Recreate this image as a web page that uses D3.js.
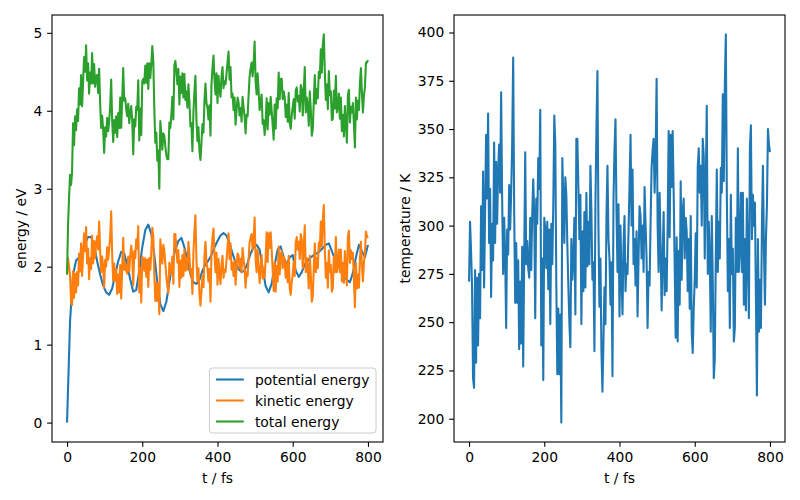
<!DOCTYPE html>
<html><head><meta charset="utf-8">
<script src="https://cdn.jsdelivr.net/npm/d3@7"></script>
<style>body{margin:0;background:#fff}svg{display:block}text{font-family:"DejaVu Sans",sans-serif}</style>
</head><body><svg id="c" width="800" height="500"></svg>
<script>
const xTicks=[0,200,400,600,800];
const energyTicks=[0,1,2,3,4,5];
const tempTicks=[200,225,250,275,300,325,350,375,400];
const seriesNames=["potential energy","kinetic energy","total energy"];
const seriesColors=["#1f77b4","#ff7f0e","#2ca02c"];

const potential=[0.00,1.30,1.90,2.08,2.12,2.18,2.30,2.38,2.38,2.27,
2.07,1.90,1.76,1.67,1.64,1.72,1.90,2.07,2.19,2.17,
2.02,1.84,1.68,1.70,1.95,2.25,2.47,2.54,2.42,2.15,
1.80,1.52,1.43,1.55,1.80,2.05,2.22,2.33,2.37,2.25,
2.08,1.90,1.80,1.78,1.83,1.95,2.03,2.08,2.15,2.25,
2.33,2.40,2.43,2.40,2.30,2.17,2.05,1.97,1.93,1.95,
2.05,2.17,2.25,2.28,2.22,1.98,1.75,1.67,1.78,2.02,
2.22,2.26,2.12,2.03,2.12,2.15,1.95,1.87,1.93,2.03,
2.08,2.12,2.15,2.17,2.20,2.24,2.28,2.30,2.20,2.10,
2.02,1.95,1.88,1.83,1.80,1.92,2.12,2.28,2.20,2.12,
2.28];

const kinetic=[1.90,2.11,2.01,1.88,1.55,1.51,1.94,1.60,1.91,1.67,
1.93,1.76,2.17,1.94,2.30,1.88,2.15,2.43,2.20,2.51,
2.04,2.23,1.84,2.11,1.97,2.40,2.04,2.33,2.11,2.30,
2.39,2.22,2.58,2.20,1.93,2.13,2.00,1.73,2.09,2.00,
2.25,2.09,2.22,2.39,2.71,2.15,1.82,2.04,1.82,1.97,
1.65,1.90,1.67,2.02,1.59,1.98,2.37,1.96,2.04,1.95,
1.91,2.13,1.94,2.14,2.27,2.14,1.76,2.20,2.11,2.35,
2.23,2.52,1.67,1.98,1.54,2.13,2.09,1.95,2.11,1.87,
2.09,1.74,2.11,1.96,2.18,2.50,2.39,1.89,1.56,1.80,
1.56,1.78,1.39,2.35,2.19,2.04,2.28,2.21,2.03,1.88,
1.75,1.66,2.05,1.90,1.98,2.13,1.78,2.42,2.42,2.24,
2.05,2.21,1.74,2.08,1.86,2.15,1.88,2.22,1.95,2.11,
1.96,2.32,2.15,1.90,1.97,1.65,2.18,2.45,2.66,2.10,
1.81,1.98,1.65,1.50,1.68,1.88,1.74,2.13,2.32,2.05,
1.98,1.81,1.97,1.55,2.19,2.37,2.49,2.15,1.93,2.18,
1.77,2.10,1.90,1.78,2.03,2.14,1.86,1.96,1.93,2.08,
2.25,2.43,2.10,2.30,1.96,2.05,1.88,2.08,1.77,1.98,
2.17,2.14,1.98,2.10,1.93,2.24,2.10,1.98,1.73,1.93,
1.88,2.11,2.31,2.37,2.42,2.22,2.35,2.63,2.10,1.93,
2.22,2.02,1.79,1.98,2.15,1.85,1.98,1.86,2.10,2.44,
2.06,2.43,2.24,2.44,2.22,1.96,1.69,2.06,1.68,2.01,
1.81,2.26,1.90,2.15,2.20,1.98,2.13,2.08,1.86,2.05,
1.80,2.14,1.72,1.64,1.80,1.90,2.07,1.88,2.31,2.38,
2.22,2.32,2.10,2.42,2.35,1.98,2.25,2.53,1.93,2.11,
1.98,1.72,2.14,1.90,1.55,1.62,1.98,2.30,1.93,2.11,
1.98,2.31,2.22,2.58,2.26,2.61,2.79,2.22,1.86,2.05,
1.73,2.21,1.93,2.02,1.68,1.73,2.13,1.93,2.38,1.93,
2.02,2.22,1.93,2.22,1.81,2.05,1.79,2.20,1.98,1.76,
2.38,2.46,2.05,2.21,2.10,2.18,1.84,1.48,2.05,1.72,
1.90,1.73,2.10,2.32,2.02,1.81,2.05,2.18,2.45,2.39,
2.37];

const total=[1.90,2.54,2.88,3.18,3.05,3.21,3.84,3.56,3.93,3.75,
4.02,3.87,4.29,4.08,4.46,4.06,4.37,4.69,4.50,4.84,
4.39,4.61,4.22,4.49,4.35,4.74,4.35,4.60,4.31,4.44,
4.46,4.23,4.54,4.10,3.78,3.94,3.76,3.46,3.79,3.67,
3.91,3.74,3.86,4.06,4.40,3.87,3.60,3.88,3.72,3.93,
3.66,3.97,3.78,4.17,3.78,4.16,4.55,4.13,4.16,4.02,
3.93,4.09,3.84,3.98,4.06,3.87,3.44,3.89,3.80,4.05,
4.01,4.39,3.62,4.03,3.69,4.38,4.41,4.35,4.58,4.36,
4.61,4.28,4.61,4.42,4.60,4.83,4.63,4.04,3.59,3.72,
3.36,3.49,3.00,3.87,3.68,3.50,3.71,3.68,3.54,3.43,
3.38,3.38,3.85,3.78,3.95,4.18,3.89,4.58,4.64,4.50,
4.34,4.54,4.08,4.44,4.23,4.48,4.17,4.47,4.14,4.25,
4.04,4.34,4.11,3.80,3.84,3.48,3.98,4.24,4.45,3.88,
3.61,3.79,3.48,3.37,3.59,3.83,3.72,4.13,4.35,4.10,
4.04,3.89,4.07,3.68,4.34,4.55,4.71,4.40,4.21,4.48,
4.10,4.45,4.28,4.18,4.44,4.56,4.29,4.38,4.34,4.48,
4.62,4.76,4.40,4.56,4.17,4.22,4.01,4.17,3.82,4.00,
4.17,4.11,3.94,4.04,3.86,4.18,4.04,3.93,3.71,3.95,
3.93,4.20,4.44,4.54,4.62,4.44,4.60,4.89,4.37,4.21,
4.48,4.26,4.01,4.12,4.21,3.83,3.88,3.69,3.85,4.16,
3.76,4.10,3.95,4.18,4.00,3.82,3.63,4.08,3.77,4.16,
4.03,4.49,4.15,4.41,4.41,4.15,4.25,4.17,3.92,4.08,
3.86,4.23,3.84,3.77,3.94,4.05,4.15,3.90,4.26,4.30,
4.12,4.19,3.99,4.33,4.28,3.94,4.25,4.56,3.98,4.17,
4.06,3.81,4.25,4.02,3.68,3.76,4.13,4.46,4.09,4.28,
4.16,4.50,4.42,4.79,4.49,4.85,4.98,4.49,4.14,4.34,
4.02,4.51,4.20,4.25,3.88,3.90,4.26,4.03,4.45,3.98,
4.04,4.22,3.90,4.17,3.74,3.95,3.67,4.06,3.83,3.59,
4.20,4.27,3.85,4.05,3.98,4.10,3.83,3.53,4.17,3.89,
4.13,4.01,4.35,4.55,4.22,3.98,4.20,4.30,4.62,4.62,
4.65];

const temperature=[271,302,287,268,221,216,277,229,273,238,
275,252,310,277,328,268,307,347,314,358,
291,319,263,301,282,343,291,333,301,328,
342,317,369,314,275,304,285,247,298,285,
321,298,317,342,387,307,260,291,260,282,
236,271,239,289,227,283,338,280,292,278,
273,304,277,306,324,306,252,314,301,335,
319,360,238,283,220,304,298,278,302,267,
298,249,301,280,311,357,342,270,223,257,
223,254,198,335,313,291,325,316,290,269,
250,237,293,272,283,304,254,345,345,320,
293,316,249,297,266,307,268,317,279,302,
280,331,307,272,281,235,311,350,380,300,
258,283,235,214,240,268,249,304,331,293,
283,259,281,222,313,339,355,307,276,311,
253,300,272,254,290,305,266,280,275,297,
321,347,300,329,280,293,269,297,253,283,
310,305,283,300,276,320,300,283,247,276,
269,302,330,339,345,317,336,376,300,276,
317,289,256,283,307,264,283,266,300,349,
294,347,320,349,317,280,242,294,240,287,
259,323,272,307,314,283,304,297,266,293,
257,305,245,234,257,272,296,268,330,340,
317,331,300,345,336,283,321,362,275,302,
283,245,305,272,221,231,283,329,276,302,
283,330,317,368,323,373,399,317,266,293,
247,316,275,288,240,247,304,276,340,276,
288,317,276,317,259,293,256,314,283,252,
340,352,293,316,300,312,263,212,293,245,
272,247,300,331,288,259,293,311,350,342,
338];

(function(){
const tEnd=800;
const timePE=d3.range(potential.length).map(i=>i*tEnd/(potential.length-1));
const timeMD=d3.range(temperature.length).map(i=>i*tEnd/(temperature.length-1));

const svg=d3.select("#c");
const FS=13.89, TICK=4.86, PAD=4.86, LW=2.08;
const yTop=15, yBot=442;
const panels=[{x0:52,x1:383},{x0:454,x1:785}];

function padded(lo,hi){const m=(hi-lo)*0.05;return [lo-m,hi+m];}

function drawAxes(p,x,y,yTicks,ylabel,ylabelX){
  const g=svg.append("g");
  const xa=g.append("g").attr("transform",`translate(0,${yBot})`)
    .call(d3.axisBottom(x).tickValues(xTicks).tickSize(TICK).tickPadding(PAD).tickFormat(d3.format("d")));
  const ya=g.append("g").attr("transform",`translate(${p.x0},0)`)
    .call(d3.axisLeft(y).tickValues(yTicks).tickSize(TICK).tickPadding(PAD).tickFormat(d3.format("d")));
  [xa,ya].forEach(a=>{a.select(".domain").remove();
    a.selectAll("line").attr("stroke","#000").attr("stroke-width",1.1);
    a.selectAll("text").attr("font-size",FS).attr("fill","#000").attr("font-family","DejaVu Sans");});
  g.append("text").attr("x",(p.x0+p.x1)/2).attr("y",483).attr("text-anchor","middle")
    .attr("font-size",FS).text("t / fs");
  g.append("text").attr("transform",`translate(${ylabelX},${(yTop+yBot)/2}) rotate(-90)`)
    .attr("text-anchor","middle").attr("font-size",FS).text(ylabel);
}
function frame(p){
  svg.append("rect").attr("x",p.x0).attr("y",yTop).attr("width",p.x1-p.x0).attr("height",yBot-yTop)
    .attr("fill","none").attr("stroke","#000").attr("stroke-width",1.1);
}

// left panel
const xL=d3.scaleLinear().domain(padded(0,tEnd)).range([panels[0].x0,panels[0].x1]);
const eMin=d3.min([d3.min(potential),d3.min(kinetic),d3.min(total)]);
const eMax=d3.max([d3.max(potential),d3.max(kinetic),d3.max(total)]);
const yL=d3.scaleLinear().domain(padded(eMin,eMax)).range([yBot,yTop]);
drawAxes(panels[0],xL,yL,energyTicks,"energy / eV",26);

const seriesData=[[timePE,potential],[timeMD,kinetic],[timeMD,total]];
seriesData.forEach(([tt,vv],k)=>{
  const line=d3.line().x((d,i)=>xL(tt[i])).y(d=>yL(d));
  svg.append("path").datum(vv).attr("d",line).attr("fill","none")
    .attr("stroke",seriesColors[k]).attr("stroke-width",LW).attr("stroke-linejoin","round");
});
frame(panels[0]);

// legend
const lg=svg.append("g");
const lbox=lg.append("rect");
const items=seriesNames.map(n=>lg.append("text").attr("font-size",FS).text(n));
const maxW=d3.max(items,t=>t.node().getComputedTextLength());
const legRight=376, legBottom=433, rowH=21, bp=5.6, hl=27.8, htp=11.1;
const legW=bp+hl+htp+maxW+bp+2, legH=rowH*3+2;
const legL=legRight-legW, legT=legBottom-legH;
lbox.attr("x",legL).attr("y",legT).attr("width",legW).attr("height",legH).attr("rx",3)
  .attr("fill","#fff").attr("fill-opacity",0.8).attr("stroke","#cccccc").attr("stroke-width",1);
items.forEach((t,k)=>{
  const cy=legT+11.5+k*rowH;
  lg.append("line").attr("x1",legL+bp+1).attr("x2",legL+bp+1+hl).attr("y1",cy).attr("y2",cy)
    .attr("stroke",seriesColors[k]).attr("stroke-width",LW);
  t.attr("x",legL+bp+1+hl+htp).attr("y",cy).attr("dy","0.36em");
});

// right panel
const xR=d3.scaleLinear().domain(padded(0,tEnd)).range([panels[1].x0,panels[1].x1]);
const yR=d3.scaleLinear().domain(padded(d3.min(temperature),d3.max(temperature))).range([yBot,yTop]);
drawAxes(panels[1],xR,yR,tempTicks,"temperature / K",410);
svg.append("path").datum(temperature)
  .attr("d",d3.line().x((d,i)=>xR(timeMD[i])).y(d=>yR(d)))
  .attr("fill","none").attr("stroke",seriesColors[0]).attr("stroke-width",LW).attr("stroke-linejoin","round");
frame(panels[1]);
})();
</script></body></html>
